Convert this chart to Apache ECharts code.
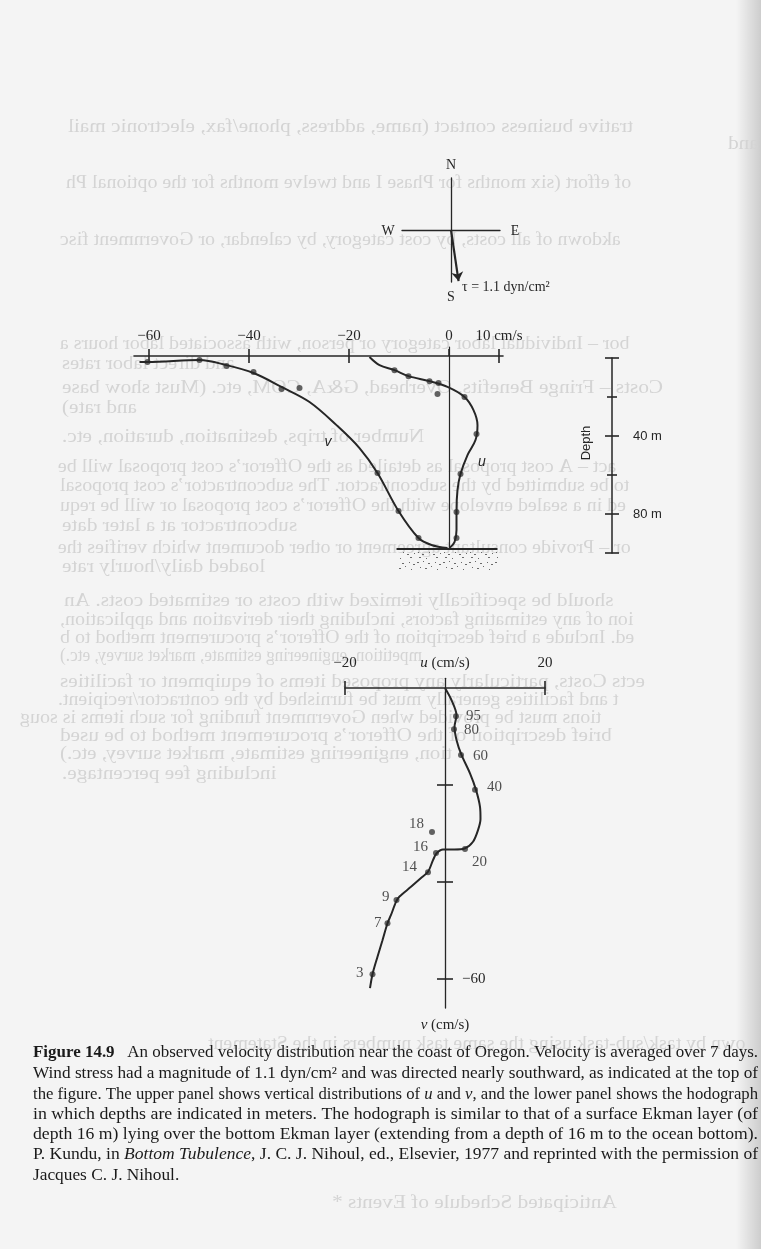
<!DOCTYPE html>
<html>
<head>
<meta charset="utf-8">
<script src="https://cdn.jsdelivr.net/npm/echarts@6/dist/echarts.min.js"></script>
<style>
html,body{margin:0;padding:0;background:#f4f4f4;}
#c{width:761px;height:1249px;}
</style>
</head>
<body>
<div id="c"></div>
<script>
// ---------------- DATA ----------------
// Upper panel: vertical profiles (velocity in cm/s vs depth in m)
const profileTickVals = [-60, -40, -20, 0, 10];
const profileInnerTicks = [-60, -40, -20, 10];
const uCurveDepth = [0.5, 4.7, 7.3, 10.4, 13, 16, 21.2, 28, 35.8, 43.5, 51.3, 61.1, 69.4, 80.8, 90.2, 96.4, 99.5];
const uCurveVal   = [-15.9, -13.9, -10.9, -8.1, -3.9, -0.3, 3.1, 4.9, 5.7, 5.3, 3.7, 2.3, 1.7, 1.5, 1.5, 1.1, 0.1];
const uDotsDepth  = [7.3, 10.4, 13, 14, 19.7, 21.2, 40.4, 61.1, 80.8, 94.3];
const uDotsVal    = [-10.9, -8.1, -3.9, -2.1, -2.3, 3.1, 5.5, 2.3, 1.5, 1.5];
const vCurveDepth = [3.1, 3.1, 2.1, 4.7, 8.8, 16, 23.8, 35.8, 47.7, 60.6, 80.3, 94.3, 97.9, 99.5];
const vCurveVal   = [-61.9, -60.3, -49.9, -44.5, -39.1, -33.5, -27.9, -22.5, -17.9, -14.3, -10.1, -6.1, -3.5, -0.3];
const vDotsDepth  = [3.1, 2.1, 5.2, 8.3, 17.1, 16.6, 60.6, 80.3, 94.3];
const vDotsVal    = [-60.3, -49.9, -44.5, -39.1, -33.5, -29.9, -14.3, -10.1, -6.1];
const seabedU     = [-10.5, 9.7];
const seabedDepth = 100;
// Depth scale bar
const depthMajor  = [0, 40, 80, 100];
const depthMinor  = [20, 60];
const depthLabels = [40, 80];
// Lower panel: hodograph (u, v in cm/s), depths in m
const hodoCurveU = [0, 1.3, 2.3, 1.9, 2.3, 3.3, 5.0, 6.2, 7.0, 7.1, 6.6, 5.6, 3.9, 1.9, -0.4, -1.7, -2.4, -3.4, -4.8, -6.8, -9.1, -9.8, -10.8, -11.5, -12.5, -13.5, -14.5, -15.0];
const hodoCurveV = [0, -2.5, -5.6, -8.0, -10.7, -13.8, -17.6, -21.0, -24.5, -27.0, -29.3, -31.7, -33.1, -33.3, -33.3, -34.1, -35.5, -37.9, -39.2, -41.0, -43.0, -44.1, -46.8, -48.5, -52.0, -55.4, -59.0, -61.9];
const hodoDepth = [95, 80, 60, 40, 20, 18, 16, 14, 9, 7, 3];
const hodoU     = [2.2, 1.8, 3.2, 6.0, 4.0, -2.6, -1.8, -3.4, -9.7, -11.5, -14.5];
const hodoV     = [-5.8, -8.5, -13.8, -21.0, -33.2, -29.7, -34.0, -38.0, -43.7, -48.5, -59.0];
const hodoUTicks = [-20, 20];
const hodoVTicks = [-20, -40, -60];
const hodoVLabels = [-60];
// Wind stress vector (dyn/cm^2), east & north components
const tauEast  = [0.17];
const tauNorth = [-1.08];

// ---------------- STYLE ----------------
const ink = '#262626';
const serif = 'Liberation Serif';
const sans = 'Liberation Sans';
const minus = v => (v < 0 ? '\u2212' + Math.abs(v) : String(v));

// label placement for hodograph depth labels (style only)
const hodoLabelPlace = {
  95: {position: 'right', distance: 7, offset: [0, 0]},
  80: {position: 'right', distance: 7, offset: [0, 1]},
  60: {position: 'right', distance: 9, offset: [0, 1]},
  40: {position: 'right', distance: 9, offset: [0, -3]},
  20: {position: 'right', distance: 4, offset: [0, 13]},
  18: {position: 'left',  distance: 5, offset: [0, -8]},
  16: {position: 'left',  distance: 5, offset: [0, -6]},
  14: {position: 'left',  distance: 8, offset: [0, -5]},
  9:  {position: 'left',  distance: 4, offset: [0, -3]},
  7:  {position: 'left',  distance: 3, offset: [0, 0]},
  3:  {position: 'left',  distance: 6, offset: [0, -1]}
};

const zip = (a, b) => a.map((x, i) => [x, b[i]]);

function valAxis(o) {
  return Object.assign({
    type: 'value', splitLine: {show: false}, axisLabel: {show: false},
    axisTick: {show: false}, axisLine: {show: false, onZero: false}
  }, o);
}
const tickStyle = {color: ink, width: 1.6};

// ---------------- CAPTION / PAGE TEXT ----------------
const captionLines = [
  [['b', 'Figure 14.9'], ['n', '   An observed velocity distribution near the coast of Oregon. Velocity is averaged over 7 days.']],
  [['n', 'Wind stress had a magnitude of 1.1 dyn/cm\u00b2 and was directed nearly southward, as indicated at the top of']],
  [['n', 'the figure. The upper panel shows vertical distributions of '], ['i', 'u'], ['n', ' and '], ['i', 'v'], ['n', ', and the lower panel shows the hodograph']],
  [['n', 'in which depths are indicated in meters. The hodograph is similar to that of a surface Ekman layer (of']],
  [['n', 'depth 16 m) lying over the bottom Ekman layer (extending from a depth of 16 m to the ocean bottom).']],
  [['n', 'P. Kundu, in '], ['i', 'Bottom Tubulence'], ['n', ', J. C. J. Nihoul, ed., Elsevier, 1977 and reprinted with the permission of']],
  [['n', 'Jacques C. J. Nihoul.']]
];
const captionY = [1053, 1074, 1095, 1115, 1135, 1155, 1176];

// show-through text from the reverse side of the page (mirrored)
const bleed = [
  [127, 68, 732, 'trative business contact (name, address, phone/fax, electronic mail'],
  [144, 728, 761, 'and'],
  [183, 66, null, 'of effort (six months for Phase I and twelve months for the optional Ph'],
  [240, 60, null, 'akdown of all costs, by cost category, by calendar, or Government fisc'],
  [344, 60, null, 'bor \u2013 Individual labor category or person, with associated labor hours a'],
  [364, 62, 235, 'and direct labor rates'],
  [388, 62, 712, 'Costs \u2013 Fringe Benefits, Overhead, G&A, COM, etc. (Must show base'],
  [408, 62, 140, 'and rate)'],
  [437, 62, 452, 'Number of trips, destination, duration, etc.'],
  [467, 58, null, 'act \u2013 A cost proposal as detailed as the Offeror\u2019s cost proposal will be'],
  [486, 60, null, 'to be submitted by the subcontractor. The subcontractor\u2019s cost proposal'],
  [506, 60, null, 'ed in a sealed envelope with the Offeror\u2019s cost proposal or will be requ'],
  [526, 62, 322, 'subcontractor at a later date'],
  [548, 58, null, 'or \u2013 Provide consultant agreement or other document which verifies the'],
  [567, 62, 312, 'loaded daily/hourly rate'],
  [601, 64, 702, 'should be specifically itemized with costs or estimated costs. An'],
  [620, 60, null, 'ion of any estimating factors, including their derivation and application,'],
  [638, 60, null, 'ed. Include a brief description of the Offeror\u2019s procurement method to b'],
  [656, 60, 422, 'mpetition, engineering estimate, market survey, etc.)'],
  [682, 60, 732, 'ects Costs, particularly any proposed items of equipment or facilities'],
  [700, 58, null, 't and facilities generally must be furnished by the contractor/recipient.'],
  [718, 20, null, 'tions must be provided when Government funding for such items is soug'],
  [736, 60, 642, 'brief description of the Offeror\u2019s procurement method to be used'],
  [754, 60, 452, 'tion, engineering estimate, market survey, etc.)'],
  [774, 62, 382, 'including fee percentage.'],
  [1044, 208, null, 'own by task/sub-task using the same task numbers in the Statement'],
  [1203, 332, 700, 'Anticipated Schedule of Events *']
];

const mctx = document.createElement('canvas').getContext('2d');
function textW(text, size, family, weight, style) {
  mctx.font = (style || 'normal') + ' ' + (weight || 'normal') + ' ' + size + 'px "' + family + '"';
  return mctx.measureText(text).width;
}

const capSize = 16;
const capFill = '#1a1a1a';
const capRich = {
  n: {fontFamily: serif, fontSize: capSize, fill: capFill},
  b: {fontFamily: serif, fontSize: capSize, fontWeight: 'bold', fill: capFill},
  i: {fontFamily: serif, fontSize: capSize, fontStyle: 'italic', fill: capFill}
};
const capLeft = 33, capRight = 758;
const graphics = [];

// page shading at right edge
graphics.push({
  type: 'rect', z: -20, silent: true,
  shape: {x: 736, y: 0, width: 25, height: 1249},
  style: {fill: new echarts.graphic.LinearGradient(0, 0, 1, 0, [
    {offset: 0, color: 'rgba(0,0,0,0)'}, {offset: 1, color: 'rgba(0,0,0,0.16)'}])}
});

const bleedSize = 19;
bleed.forEach(([y, x1, x2, t]) => {
  const w = textW(t, bleedSize, serif);
  let s = x2 == null ? 1.05 : (x2 - x1) / w;
  s = Math.max(0.9, Math.min(1.12, s));
  graphics.push({
    type: 'text', z: -10, silent: true,
    x: x1 + w * s, y: y, scaleX: -s,
    style: {text: t, fontFamily: serif, fontSize: bleedSize, fill: '#d4d4d4', align: 'left', verticalAlign: 'middle'}
  });
});

let scales = [];
captionLines.forEach((segs) => {
  let w = 0;
  segs.forEach(([k, t]) => {
    w += textW(t, capSize, serif, k === 'b' ? 'bold' : 'normal', k === 'i' ? 'italic' : 'normal');
  });
  scales.push((capRight - capLeft) / w);
});
const avgScale = scales.slice(0, 6).reduce((a, b) => a + b, 0) / 6;
captionLines.forEach((segs, i) => {
  const s = i < 6 ? scales[i] : avgScale;
  graphics.push({
    type: 'text', silent: true, x: capLeft, y: captionY[i], scaleX: s,
    style: {
      text: segs.map(([k, t]) => '{' + k + '|' + t + '}').join(''),
      rich: capRich, fontFamily: serif, fontSize: capSize, fill: capFill,
      align: 'left', verticalAlign: 'middle'
    }
  });
});

// compass labels
const compassText = (t, x, y, align) => ({
  type: 'text', silent: true, x: x, y: y,
  style: {text: t, fontFamily: serif, fontSize: 14, fill: ink, align: align || 'center', verticalAlign: 'middle'}
});
graphics.push(compassText('N', 451, 165));
graphics.push(compassText('W', 388, 231));
graphics.push(compassText('E', 515, 231));
graphics.push(compassText('S', 451, 297));
graphics.push(compassText('\u03c4 = 1.1 dyn/cm\u00b2', 462, 287, 'left'));

// curve names
graphics.push({type: 'text', silent: true, x: 328, y: 442,
  style: {text: 'v', fontFamily: sans, fontStyle: 'italic', fontSize: 14, fill: ink, align: 'center', verticalAlign: 'middle'}});
graphics.push({type: 'text', silent: true, x: 482, y: 462,
  style: {text: 'u', fontFamily: sans, fontStyle: 'italic', fontSize: 14, fill: ink, align: 'center', verticalAlign: 'middle'}});
// depth scale title
graphics.push({type: 'text', silent: true, x: 586, y: 443, rotation: Math.PI / 2,
  style: {text: 'Depth', fontFamily: sans, fontSize: 13, fill: ink, align: 'center', verticalAlign: 'middle'}});

// sediment stipple under the sea bed
const pc = document.createElement('canvas');
pc.width = 26; pc.height = 20;
const pctx = pc.getContext('2d');
pctx.fillStyle = 'rgba(60,60,60,0.75)';
[[1,2,2,1],[7,1,1,1],[12,3,2,1],[19,2,1,1],[23,4,2,1],[4,7,1,1],[9,8,2,1],[15,6,1,1],[21,9,1,1],
 [2,12,1,1],[6,14,2,1],[13,12,1,1],[17,14,2,1],[24,13,1,1],[3,17,2,1],[10,18,1,1],[20,17,2,1]]
  .forEach(([x, y, w, h]) => pctx.fillRect(x, y, w, h));
graphics.push({type: 'rect', silent: true, shape: {x: 398, y: 551, width: 100, height: 19},
  style: {fill: {image: pc, repeat: 'repeat'}}});

// ---------------- OPTION ----------------
const option = {
  backgroundColor: '#f4f4f4',
  animation: false,
  grid: [
    {left: 134, width: 369, top: 347, height: 202},      // profiles
    {left: 600, width: 12, top: 358, height: 195},       // depth scale bar
    {left: 345, width: 200, top: 678.3, height: 329.8},  // hodograph
    {left: 402, width: 98, top: 178, height: 104}        // compass
  ],
  xAxis: [
    valAxis({gridIndex: 0, min: -63, max: 10.8, position: 'top',
      axisLine: {show: true, onZero: true, lineStyle: {color: ink, width: 1.6}},
      axisTick: {show: true, customValues: profileTickVals, length: 7, lineStyle: tickStyle},
      axisLabel: {show: true, customValues: profileTickVals, margin: 3,
        formatter: v => (v === 10 ? '10 cm/s' : minus(v)),
        fontFamily: serif, fontSize: 15, color: ink}}),
    valAxis({gridIndex: 0, min: -63, max: 10.8, position: 'top',
      axisLine: {show: false, onZero: true, onZeroAxisIndex: 0},
      axisTick: {show: true, inside: true, customValues: profileInnerTicks, length: 7, lineStyle: tickStyle}}),
    valAxis({gridIndex: 1, min: 0, max: 1, show: false}),
    valAxis({gridIndex: 2, min: -20, max: 20, position: 'top',
      name: '{i|u} (cm/s)', nameLocation: 'middle', nameGap: 8, nameMoveOverlap: false,
      nameTextStyle: {fontFamily: serif, fontSize: 15, color: ink,
        rich: {i: {fontFamily: serif, fontStyle: 'italic', fontSize: 15, color: ink}}},
      axisLine: {show: true, onZero: true, lineStyle: {color: ink, width: 1.6}},
      axisTick: {show: true, customValues: hodoUTicks, length: 7, lineStyle: tickStyle},
      axisLabel: {show: true, customValues: hodoUTicks, margin: 8, formatter: minus,
        fontFamily: serif, fontSize: 15, color: ink}}),
    valAxis({gridIndex: 2, min: -20, max: 20, position: 'top',
      axisLine: {show: false, onZero: true, onZeroAxisIndex: 5},
      axisTick: {show: true, inside: true, customValues: hodoUTicks, length: 7, lineStyle: tickStyle}}),
    valAxis({gridIndex: 3, min: -1.1, max: 1.1,
      axisLine: {show: true, onZero: true, lineStyle: {color: ink, width: 1.3}}})
  ],
  yAxis: [
    valAxis({gridIndex: 0, inverse: true, min: -4.7, max: 100,
      axisLine: {show: true, onZero: true, lineStyle: {color: ink, width: 1.2}}}),
    valAxis({gridIndex: 1, inverse: true, min: 0, max: 100, position: 'right',
      axisLine: {show: true, onZero: false, lineStyle: {color: ink, width: 1.5}},
      axisTick: {show: true, customValues: depthMajor, length: 7, lineStyle: tickStyle},
      axisLabel: {show: true, customValues: depthLabels, margin: 21, formatter: v => v + ' m',
        fontFamily: sans, fontSize: 13, color: ink}}),
    valAxis({gridIndex: 1, inverse: true, min: 0, max: 100, position: 'right',
      axisTick: {show: true, inside: true, customValues: depthMajor, length: 7, lineStyle: tickStyle}}),
    valAxis({gridIndex: 1, inverse: true, min: 0, max: 100, position: 'right',
      axisTick: {show: true, customValues: depthMinor, length: 5, lineStyle: tickStyle}}),
    valAxis({gridIndex: 1, inverse: true, min: 0, max: 100, position: 'right',
      axisTick: {show: true, inside: true, customValues: depthMinor, length: 5, lineStyle: tickStyle}}),
    valAxis({gridIndex: 2, min: -66, max: 2, position: 'right',
      name: '{i|v} (cm/s)', nameLocation: 'start', nameGap: 9, nameMoveOverlap: false,
      nameTextStyle: {fontFamily: serif, fontSize: 15, color: ink,
        rich: {i: {fontFamily: serif, fontStyle: 'italic', fontSize: 15, color: ink}}},
      axisLine: {show: true, onZero: true, lineStyle: {color: ink, width: 1.3}},
      axisTick: {show: true, customValues: hodoVTicks, length: 8, lineStyle: tickStyle},
      axisLabel: {show: true, customValues: hodoVLabels, margin: -83, formatter: minus,
        fontFamily: serif, fontSize: 15, color: ink}}),
    valAxis({gridIndex: 2, min: -66, max: 2, position: 'right',
      axisLine: {show: false, onZero: true, onZeroAxisIndex: 3},
      axisTick: {show: true, inside: true, customValues: hodoVTicks, length: 8, lineStyle: tickStyle}}),
    valAxis({gridIndex: 3, min: -1.1, max: 1.1,
      axisLine: {show: true, onZero: true, lineStyle: {color: ink, width: 1.3}}})
  ],
  series: [
    {type: 'line', name: 'u', xAxisIndex: 0, yAxisIndex: 0, data: zip(uCurveVal, uCurveDepth),
      smooth: 0.35, symbol: 'none', lineStyle: {color: ink, width: 2}, silent: true},
    {type: 'line', name: 'v', xAxisIndex: 0, yAxisIndex: 0, data: zip(vCurveVal, vCurveDepth),
      smooth: 0.35, symbol: 'none', lineStyle: {color: ink, width: 2}, silent: true},
    {type: 'scatter', name: 'u obs', xAxisIndex: 0, yAxisIndex: 0, data: zip(uDotsVal, uDotsDepth),
      symbolSize: 6, itemStyle: {color: '#3c3c3c'}, silent: true},
    {type: 'scatter', name: 'v obs', xAxisIndex: 0, yAxisIndex: 0, data: zip(vDotsVal, vDotsDepth),
      symbolSize: 6, itemStyle: {color: '#3c3c3c'}, silent: true},
    {type: 'line', name: 'bottom', xAxisIndex: 0, yAxisIndex: 0,
      data: seabedU.map(u => [u, seabedDepth]), symbol: 'none',
      lineStyle: {color: ink, width: 2}, silent: true},
    {type: 'line', name: 'hodograph', xAxisIndex: 3, yAxisIndex: 5, data: zip(hodoCurveU, hodoCurveV),
      smooth: 0.3, symbol: 'none', lineStyle: {color: ink, width: 2}, silent: true},
    {type: 'scatter', name: 'hodograph obs', xAxisIndex: 3, yAxisIndex: 5,
      data: hodoDepth.map((d, i) => {
        const p = hodoLabelPlace[d];
        return {value: [hodoU[i], hodoV[i], d],
          label: {show: true, position: p.position, distance: p.distance, offset: p.offset}};
      }),
      symbolSize: 6, itemStyle: {color: '#3c3c3c'}, silent: true,
      label: {show: true, formatter: pr => String(pr.value[2]),
        fontFamily: serif, fontSize: 15, color: ink}},
    {type: 'lines', name: 'wind stress', coordinateSystem: 'cartesian2d', xAxisIndex: 5, yAxisIndex: 7,
      data: tauEast.map((e, i) => ({coords: [[0, 0], [e, tauNorth[i]]]})),
      symbol: ['none', 'arrow'], symbolSize: 9,
      lineStyle: {color: ink, width: 2.2, opacity: 1}, silent: true}
  ],
  graphic: graphics
};

const chart = echarts.init(document.getElementById('c'), null, {renderer: 'canvas'});
chart.setOption(option);
</script>
</body>
</html>
